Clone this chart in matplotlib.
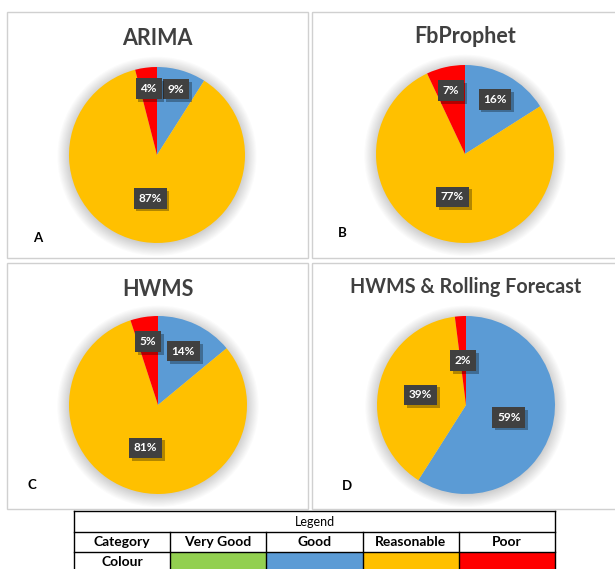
import numpy as np
import matplotlib
matplotlib.use("Agg")
import matplotlib.pyplot as plt
from matplotlib.patches import Rectangle, Circle
import matplotlib.patheffects as pe

# ---------------- data ----------------
categories = ['Very Good', 'Good', 'Reasonable', 'Poor']
cat_colors = ['#92D050', '#5B9BD5', '#FFC000', '#FF0000']
models = ['ARIMA', 'FbProphet', 'HWMS', 'HWMS & Rolling Forecast']
panel_letters = ['A', 'B', 'C', 'D']
arima = [0, 9, 87, 4]
fbprophet = [0, 16, 77, 7]
hwms = [0, 14, 81, 5]
hwms_rolling = [0, 59, 39, 2]
series = [arima, fbprophet, hwms, hwms_rolling]

# ---------------- layout (pixels) ----------------
W, H = 615, 569
plt.rcParams['font.family'] = ['Lato', 'DejaVu Sans']
fig = plt.figure(figsize=(W / 100, H / 100), dpi=100)
fig.patch.set_facecolor('white')

bg = fig.add_axes([0, 0, 1, 1], zorder=0)
bg.set_xlim(0, W)
bg.set_ylim(H, 0)
bg.axis('off')

panels = [
    dict(box=(7, 12, 308, 258), c=(157, 155), r=88, ty=38, lp=(38, 238), fs=15.5),
    dict(box=(312, 12, 620, 258), c=(465, 154), r=89, ty=36, lp=(342, 233), fs=15.5),
    dict(box=(7, 263, 308, 509), c=(158, 405), r=89, ty=289, lp=(32, 485), fs=15.5),
    dict(box=(312, 263, 620, 509), c=(466, 405), r=89, ty=287, lp=(347, 486), fs=14.2),
]
label_dist = [
    [0, 0.78, 0.50, 0.76],
    [0, 0.70, 0.50, 0.73],
    [0, 0.67, 0.50, 0.72],
    [0, 0.50, 0.52, 0.50],
]

for i, p in enumerate(panels):
    x0, y0, x1, y1 = p['box']
    bg.add_patch(Rectangle((x0, y0), x1 - x0, y1 - y0, fill=False,
                           ec='#D0D0D0', lw=1.0, clip_on=False))
    cx, cy = p['c']
    bg.text(cx, p['ty'], models[i], ha='center', va='center', fontsize=p['fs'],
            fontweight='bold', color='#404040')
    bg.text(p['lp'][0], p['lp'][1], panel_letters[i], ha='center', va='center',
            fontsize=9.5, fontweight='bold', color='black')

    r = p['r']
    ax = fig.add_axes([(cx - r) / W, 1 - (cy + r) / H, 2 * r / W, 2 * r / H], zorder=2)
    vals = series[i]
    wedges, _ = ax.pie(vals, colors=cat_colors, startangle=90, counterclock=False,
                       radius=1.0, wedgeprops=dict(lw=0))
    ax.set_xlim(-1, 1)
    ax.set_ylim(-1, 1)
    ax.axis('off')
    # soft shadow
    for k in range(12):
        ax.add_patch(Circle((0.0, -0.015), 1.0 + 0.012 * k, color='#000000',
                            alpha=0.016, lw=0, clip_on=False, zorder=0))
    for w in wedges:
        w.set_zorder(1)
    total = sum(vals)
    cum = 0
    for j, v in enumerate(vals):
        if v > 0:
            mid = np.deg2rad(90 - (cum + v / 2) / total * 360)
            d = label_dist[i][j]
            lx, ly = d * np.cos(mid), d * np.sin(mid)
            t = ax.text(lx, ly, f'{v}%', ha='center', va='center', fontsize=8.5,
                        fontweight='bold', color='white', zorder=4,
                        bbox=dict(boxstyle='square,pad=0.4', fc='#404040', ec='none'))
            t.get_bbox_patch().set_path_effects([
                pe.SimplePatchShadow(offset=(2, -2), shadow_rgbFace='black', alpha=0.3),
                pe.Normal()])
        cum += v

# ---------------- legend table ----------------
cols = [74, 170, 266, 363, 459, 555]
rows = [511, 532, 552, 575]
lc = 'black'
bg.plot([cols[0], cols[-1]], [rows[0], rows[0]], color=lc, lw=1, clip_on=False)
for yy in rows[1:3]:
    bg.plot([cols[0], cols[-1]], [yy, yy], color=lc, lw=1, clip_on=False)
bg.plot([cols[0], cols[0]], [rows[0], rows[3]], color=lc, lw=1, clip_on=False)
bg.plot([cols[-1], cols[-1]], [rows[0], rows[3]], color=lc, lw=1, clip_on=False)
for xx in cols[1:-1]:
    bg.plot([xx, xx], [rows[1], rows[3]], color=lc, lw=1, clip_on=False)
bg.text((cols[0] + cols[-1]) / 2, (rows[0] + rows[1]) / 2, 'Legend', ha='center',
        va='center', fontsize=9, color='black')
bg.text((cols[0] + cols[1]) / 2, (rows[1] + rows[2]) / 2, 'Category', ha='center',
        va='center', fontsize=10, fontweight='bold', color='black')
bg.text((cols[0] + cols[1]) / 2, 562, 'Colour', ha='center',
        va='center', fontsize=10, fontweight='bold', color='black')
for j, cat in enumerate(categories):
    bg.text((cols[j + 1] + cols[j + 2]) / 2, (rows[1] + rows[2]) / 2, cat, ha='center',
            va='center', fontsize=10, fontweight='bold', color='black')
    bg.add_patch(Rectangle((cols[j + 1] + 0.5, rows[2] + 0.5), cols[j + 2] - cols[j + 1] - 1,
                           rows[3] - rows[2], fc=cat_colors[j], ec='none', clip_on=False))

fig.savefig('out.png', dpi=100, facecolor='white')
